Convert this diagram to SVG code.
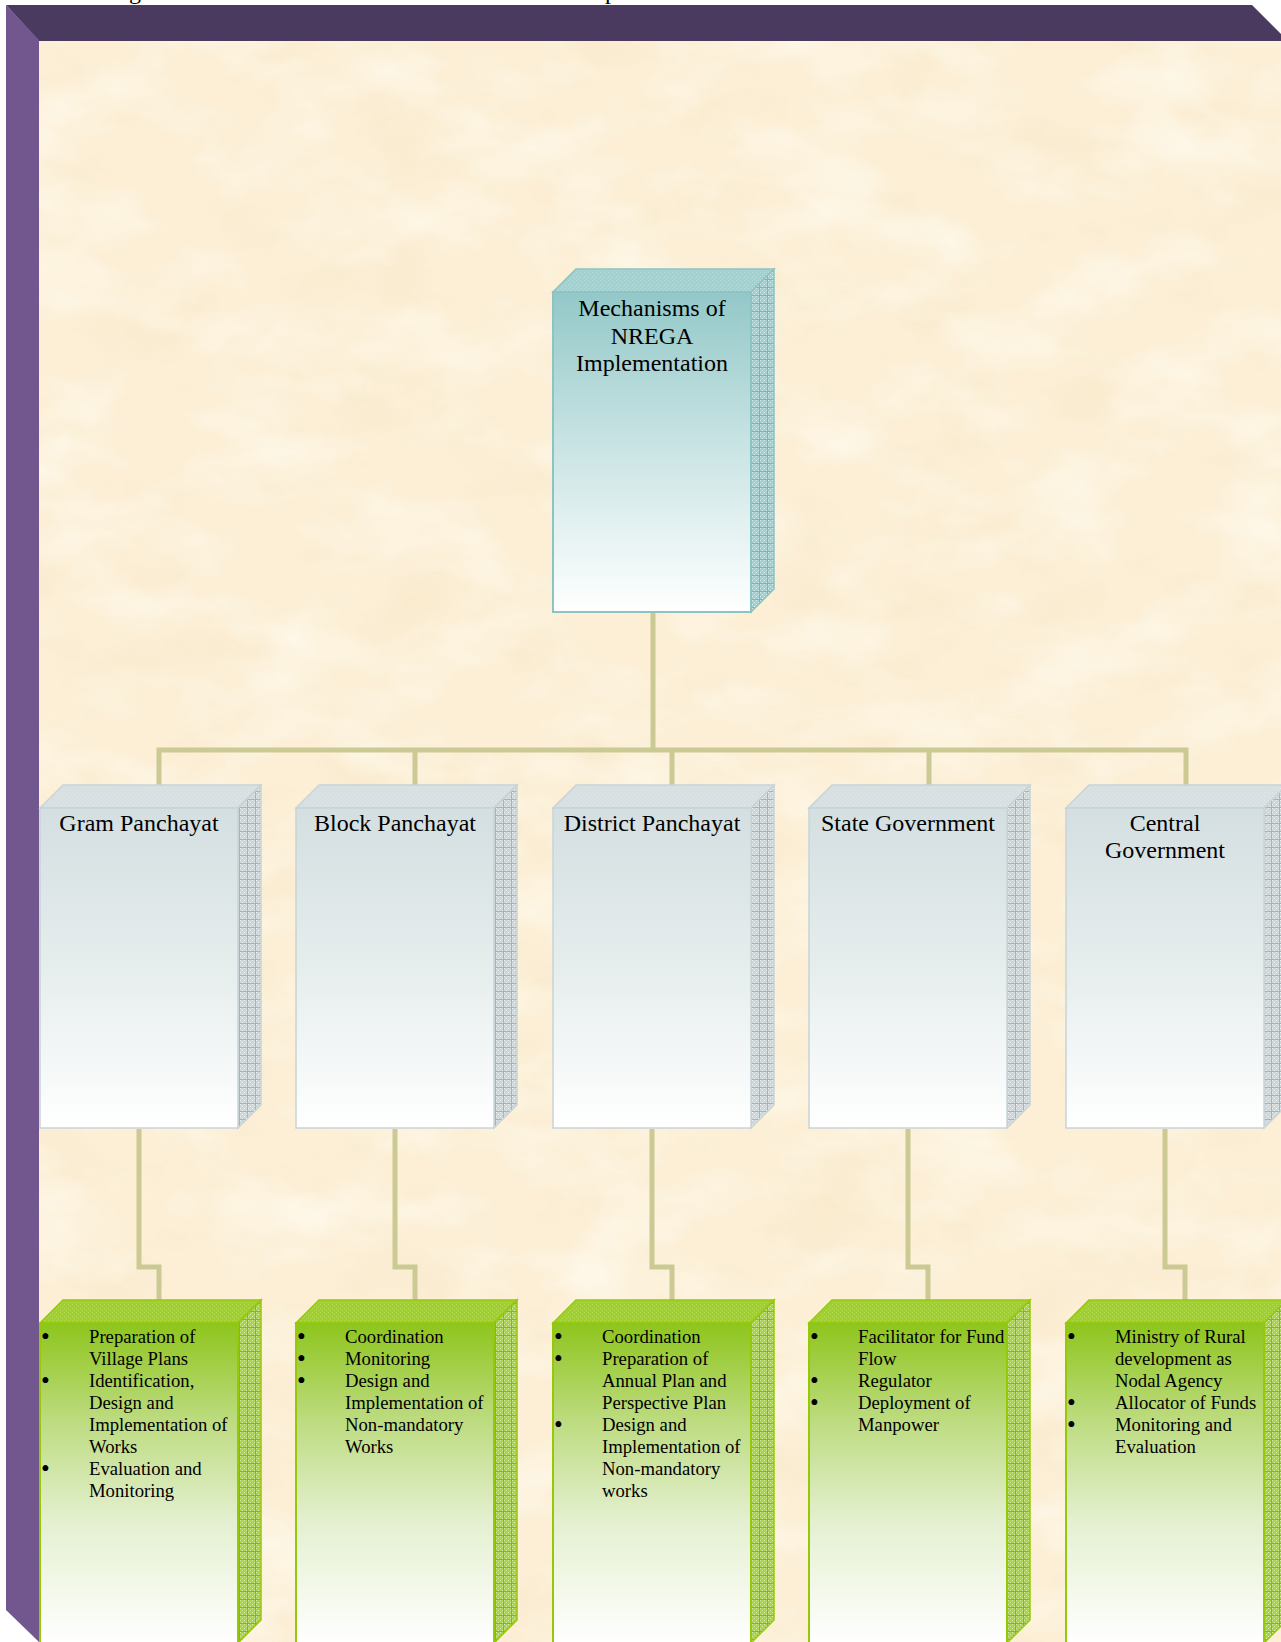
<svg xmlns="http://www.w3.org/2000/svg" width="1281" height="1642" viewBox="0 0 1281 1642">
<defs>
<style>
.t{font-family:"Liberation Serif","Times New Roman",serif;fill:#000}
.lbl{font-size:24px;text-anchor:middle}
.li{font-size:18.7px}
.bu{font-size:25px}
.con{fill:none;stroke:#cbca94;stroke-width:5;stroke-linejoin:miter}
.tealF{fill:url(#gTeal);stroke:#8cc3c3;stroke-width:2}
.tealT{fill:url(#pTealT);stroke:#8cc3c3;stroke-width:1.5}
.tealS{fill:url(#pTeal);stroke:#8cc3c3;stroke-width:1.5}
.greyF{fill:url(#gGrey);stroke:#c8d4d7;stroke-width:1.5}
.greyT{fill:url(#pGreyT);stroke:#c8d4d7;stroke-width:1.5}
.greyS{fill:url(#pGrey);stroke:#c8d4d7;stroke-width:1.5}
.grnF{fill:url(#gGrn);stroke:#95c80a;stroke-width:2}
.grnT{fill:url(#pGrnT);stroke:#95c80a;stroke-width:1.5}
.grnS{fill:url(#pGrn);stroke:#95c80a;stroke-width:1.5}
</style>
<linearGradient id="gTeal" x1="0" y1="0" x2="0" y2="1">
<stop offset="0" stop-color="#93c8c8"/><stop offset="0.45" stop-color="#c6e2e2"/><stop offset="1" stop-color="#ffffff"/>
</linearGradient>
<linearGradient id="gGrey" x1="0" y1="0" x2="0" y2="1">
<stop offset="0" stop-color="#d4dfe1"/><stop offset="0.5" stop-color="#e6eded"/><stop offset="1" stop-color="#ffffff"/>
</linearGradient>
<linearGradient id="gGrn" x1="0" y1="0" x2="0" y2="1">
<stop offset="0" stop-color="#8ec51c"/><stop offset="0.3" stop-color="#bcdb7e"/><stop offset="0.62" stop-color="#e4f0d0"/><stop offset="1" stop-color="#ffffff"/>
</linearGradient>
<pattern id="pTeal" width="8" height="8" patternUnits="userSpaceOnUse">
<rect width="8" height="8" fill="#a2cfcf"/>
<path d="M0 0h1v1H0zM2 2h1v1H2zM4 0h1v1H4zM6 2h1v1H6zM0 4h1v1H0zM2 6h1v1H2zM4 4h1v1H4zM6 6h1v1H6z" fill="#d6ecec"/>
<path d="M0 7.5H8M7.5 0V8" stroke="#7fb4b4" stroke-width="1"/>
</pattern>
<pattern id="pTealT" width="4" height="4" patternUnits="userSpaceOnUse">
<rect width="4" height="4" fill="#a2d1d1"/>
<path d="M0 0h1v1H0zM2 2h1v1H2z" fill="#b8dddd"/>
</pattern>
<pattern id="pGrey" width="8" height="8" patternUnits="userSpaceOnUse">
<rect width="8" height="8" fill="#cdd6d8"/>
<path d="M0 0h1v1H0zM2 2h1v1H2zM4 0h1v1H4zM6 2h1v1H6zM0 4h1v1H0zM2 6h1v1H2zM4 4h1v1H4zM6 6h1v1H6z" fill="#eef2f3"/>
<path d="M0 7.5H8M7.5 0V8" stroke="#a7b4b7" stroke-width="1"/>
</pattern>
<pattern id="pGreyT" width="4" height="4" patternUnits="userSpaceOnUse">
<rect width="4" height="4" fill="#d6dfe1"/>
<path d="M0 0h1v1H0zM2 2h1v1H2z" fill="#e3eaeb"/>
</pattern>
<pattern id="pGrn" width="8" height="8" patternUnits="userSpaceOnUse">
<rect width="8" height="8" fill="#a9d445"/>
<path d="M0 0h1v1H0zM2 2h1v1H2zM4 0h1v1H4zM6 2h1v1H6zM0 4h1v1H0zM2 6h1v1H2zM4 4h1v1H4zM6 6h1v1H6z" fill="#d9ecb0"/>
<path d="M0 7.5H8M7.5 0V8" stroke="#86b81e" stroke-width="1"/>
</pattern>
<pattern id="pGrnT" width="4" height="4" patternUnits="userSpaceOnUse">
<rect width="4" height="4" fill="#9fd02c"/>
<path d="M0 0h1v1H0zM2 2h1v1H2z" fill="#b3da55"/>
</pattern>
<filter id="parch" x="0" y="0" width="100%" height="100%" color-interpolation-filters="sRGB">
<feTurbulence type="fractalNoise" baseFrequency="0.009 0.016" numOctaves="4" seed="7" result="n"/>
<feColorMatrix in="n" type="matrix" values="0 0 0 0 1  0 0 0 0 0.99  0 0 0 0 0.95  1.5 0 0 0 -0.66" result="light"/>
<feColorMatrix in="n" type="matrix" values="0 0 0 0 0.96  0 0 0 0 0.89  0 0 0 0 0.74  0 0.9 0 0 -0.5" result="dark"/>
<feMerge><feMergeNode in="dark"/><feMergeNode in="light"/></feMerge>
</filter>
</defs>

<rect width="1281" height="1642" fill="#ffffff"/>
<text class="t" x="129" y="-1" font-size="24">g</text>
<text class="t" x="605" y="-1" font-size="24">p</text>

<g id="page">
<rect x="39" y="40" width="1242" height="1602" fill="#fcefd6"/>
<rect x="39" y="40" width="1242" height="1602" fill="#fcefd6" filter="url(#parch)"/>
<polygon points="6,5 1252,5 1288,41 39,41" fill="#4b3a5f"/>
<polygon points="6,5 39,40 39,1642 6,1610" fill="#72578f"/>
</g>

<g id="connectors">
<path class="con" d="M653 612V750"/>
<path class="con" d="M159 786V750H1186V786"/>
<path class="con" d="M415 750V786"/>
<path class="con" d="M672 750V786"/>
<path class="con" d="M929 750V786"/>
<path class="con" d="M139 1129V1267H159V1301"/>
<path class="con" d="M395 1129V1267H415V1301"/>
<path class="con" d="M652 1129V1267H672V1301"/>
<path class="con" d="M908 1129V1267H928V1301"/>
<path class="con" d="M1165 1129V1267H1185V1301"/>
</g>

<g id="node-top">
<polygon class="tealT" points="553,292 576,269 774,269 751,292"/>
<polygon class="tealS" points="751,292 774,269 774,589 751,612"/>
<rect class="tealF" x="553" y="292" width="198" height="320"/>
<text class="t lbl" x="652"><tspan x="652" y="316">Mechanisms of</tspan><tspan x="652" y="343.5">NREGA</tspan><tspan x="652" y="371">Implementation</tspan></text>
</g>

<g id="node-gram">
<polygon class="greyT" points="40,808 63,785 261,785 238,808"/>
<polygon class="greyS" points="238,808 261,785 261,1105 238,1128"/>
<rect class="greyF" x="40" y="808" width="198" height="320"/>
<text class="t lbl" x="139" y="831">Gram Panchayat</text>
</g>
<g id="node-block">
<polygon class="greyT" points="296,808 319,785 517,785 494,808"/>
<polygon class="greyS" points="494,808 517,785 517,1105 494,1128"/>
<rect class="greyF" x="296" y="808" width="198" height="320"/>
<text class="t lbl" x="395" y="831">Block Panchayat</text>
</g>
<g id="node-district">
<polygon class="greyT" points="553,808 576,785 774,785 751,808"/>
<polygon class="greyS" points="751,808 774,785 774,1105 751,1128"/>
<rect class="greyF" x="553" y="808" width="198" height="320"/>
<text class="t lbl" x="652" y="831">District Panchayat</text>
</g>
<g id="node-state">
<polygon class="greyT" points="809,808 832,785 1030,785 1007,808"/>
<polygon class="greyS" points="1007,808 1030,785 1030,1105 1007,1128"/>
<rect class="greyF" x="809" y="808" width="198" height="320"/>
<text class="t lbl" x="908" y="831">State Government</text>
</g>
<g id="node-central">
<polygon class="greyT" points="1066,808 1089,785 1287,785 1264,808"/>
<polygon class="greyS" points="1264,808 1287,785 1287,1105 1264,1128"/>
<rect class="greyF" x="1066" y="808" width="198" height="320"/>
<text class="t lbl" x="1165"><tspan x="1165" y="831">Central</tspan><tspan x="1165" y="858">Government</tspan></text>
</g>

<g id="tasks-gram">
<polygon class="grnT" points="40,1323 63,1300 261,1300 238,1323"/>
<polygon class="grnS" points="238,1323 261,1300 261,1620 238,1643"/>
<rect class="grnF" x="40" y="1323" width="198" height="320"/>
<text class="t bu"><tspan x="41" y="1345">•</tspan><tspan x="41" y="1389.1">•</tspan><tspan x="41" y="1477.3">•</tspan></text>
<text class="t li"><tspan x="89" y="1343">Preparation of</tspan><tspan x="89" y="1365.05">Village Plans</tspan><tspan x="89" y="1387.1">Identification,</tspan><tspan x="89" y="1409.15">Design and</tspan><tspan x="89" y="1431.2">Implementation of</tspan><tspan x="89" y="1453.25">Works</tspan><tspan x="89" y="1475.3">Evaluation and</tspan><tspan x="89" y="1497.35">Monitoring</tspan></text>
</g>
<g id="tasks-block">
<polygon class="grnT" points="296,1323 319,1300 517,1300 494,1323"/>
<polygon class="grnS" points="494,1323 517,1300 517,1620 494,1643"/>
<rect class="grnF" x="296" y="1323" width="198" height="320"/>
<text class="t bu"><tspan x="297" y="1345">•</tspan><tspan x="297" y="1367.05">•</tspan><tspan x="297" y="1389.1">•</tspan></text>
<text class="t li"><tspan x="345" y="1343">Coordination</tspan><tspan x="345" y="1365.05">Monitoring</tspan><tspan x="345" y="1387.1">Design and</tspan><tspan x="345" y="1409.15">Implementation of</tspan><tspan x="345" y="1431.2">Non-mandatory</tspan><tspan x="345" y="1453.25">Works</tspan></text>
</g>
<g id="tasks-district">
<polygon class="grnT" points="553,1323 576,1300 774,1300 751,1323"/>
<polygon class="grnS" points="751,1323 774,1300 774,1620 751,1643"/>
<rect class="grnF" x="553" y="1323" width="198" height="320"/>
<text class="t bu"><tspan x="554" y="1345">•</tspan><tspan x="554" y="1367.05">•</tspan><tspan x="554" y="1433.2">•</tspan></text>
<text class="t li"><tspan x="602" y="1343">Coordination</tspan><tspan x="602" y="1365.05">Preparation of</tspan><tspan x="602" y="1387.1">Annual Plan and</tspan><tspan x="602" y="1409.15">Perspective Plan</tspan><tspan x="602" y="1431.2">Design and</tspan><tspan x="602" y="1453.25">Implementation of</tspan><tspan x="602" y="1475.3">Non-mandatory</tspan><tspan x="602" y="1497.35">works</tspan></text>
</g>
<g id="tasks-state">
<polygon class="grnT" points="809,1323 832,1300 1030,1300 1007,1323"/>
<polygon class="grnS" points="1007,1323 1030,1300 1030,1620 1007,1643"/>
<rect class="grnF" x="809" y="1323" width="198" height="320"/>
<text class="t bu"><tspan x="810" y="1345">•</tspan><tspan x="810" y="1389.1">•</tspan><tspan x="810" y="1411.15">•</tspan></text>
<text class="t li"><tspan x="858" y="1343">Facilitator for Fund</tspan><tspan x="858" y="1365.05">Flow</tspan><tspan x="858" y="1387.1">Regulator</tspan><tspan x="858" y="1409.15">Deployment of</tspan><tspan x="858" y="1431.2">Manpower</tspan></text>
</g>
<g id="tasks-central">
<polygon class="grnT" points="1066,1323 1089,1300 1287,1300 1264,1323"/>
<polygon class="grnS" points="1264,1323 1287,1300 1287,1620 1264,1643"/>
<rect class="grnF" x="1066" y="1323" width="198" height="320"/>
<text class="t bu"><tspan x="1067" y="1345">•</tspan><tspan x="1067" y="1411.15">•</tspan><tspan x="1067" y="1433.2">•</tspan></text>
<text class="t li"><tspan x="1115" y="1343">Ministry of Rural</tspan><tspan x="1115" y="1365.05">development as</tspan><tspan x="1115" y="1387.1">Nodal Agency</tspan><tspan x="1115" y="1409.15">Allocator of Funds</tspan><tspan x="1115" y="1431.2">Monitoring and</tspan><tspan x="1115" y="1453.25">Evaluation</tspan></text>
</g>
</svg>
